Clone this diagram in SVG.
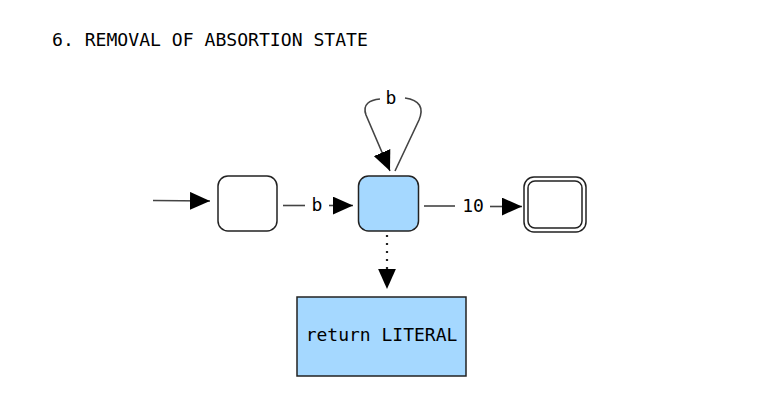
<svg xmlns="http://www.w3.org/2000/svg" width="770" height="413" viewBox="0 0 770 413">
<style>
.t{font-family:"DejaVu Sans Mono","Liberation Mono",monospace;fill:#000}
.st{stroke:#222;stroke-width:1.5}
.e{stroke:#444;stroke-width:1.6;fill:none}
</style>
<defs>
<marker id="ah" markerUnits="userSpaceOnUse" markerWidth="20" markerHeight="18" refX="18" refY="8" orient="auto" viewBox="0 0 18 16">
<path d="M0,0 L18,8 L0,16 z" fill="#000"/>
</marker>
</defs>
<rect width="770" height="413" fill="#fff"/>
<text class="t" x="52" y="46" font-size="18.1">6. REMOVAL OF ABSORTION STATE</text>
<g id="s0"><rect class="st" x="218" y="176" width="59" height="55" rx="10" fill="#fff"/></g>
<g id="s1"><rect class="st" x="358.5" y="176" width="60" height="55" rx="10" fill="#a5d8ff"/></g>
<g id="s2"><rect class="st" x="524" y="177" width="62" height="55" rx="10" fill="#fff"/><rect class="st" x="528" y="181" width="54" height="47" rx="7" fill="#fff"/></g>
<g id="ret"><rect class="st" x="297" y="297" width="169" height="79" fill="#a5d8ff"/><text class="t" x="381.5" y="341" font-size="18" text-anchor="middle">return LITERAL</text></g>
<g id="edges">
<line class="e" x1="153" y1="200.5" x2="210" y2="201" marker-end="url(#ah)"/>
<line class="e" x1="283" y1="205.5" x2="305" y2="205.5"/>
<text class="t" x="317" y="211" font-size="18" text-anchor="middle">b</text>
<line class="e" x1="329" y1="205.5" x2="353" y2="205.5" marker-end="url(#ah)"/>
<line class="e" x1="424" y1="206" x2="455" y2="206"/>
<text class="t" x="473" y="212" font-size="18" text-anchor="middle">10</text>
<line class="e" x1="490" y1="206.5" x2="522" y2="206.5" marker-end="url(#ah)"/>
<path class="e" d="M380,99 C370,100 362,104 366,115 L390,171" marker-end="url(#ah)"/>
<path class="e" d="M395,171 L419,120 C424,108 420,100 405,98"/>
<text class="t" x="391" y="104" font-size="18" text-anchor="middle">b</text>
<line x1="387" y1="235" x2="387" y2="289" stroke="#222" stroke-width="2.2" stroke-dasharray="2 6" fill="none" marker-end="url(#ah)"/>
</g>
</svg>
